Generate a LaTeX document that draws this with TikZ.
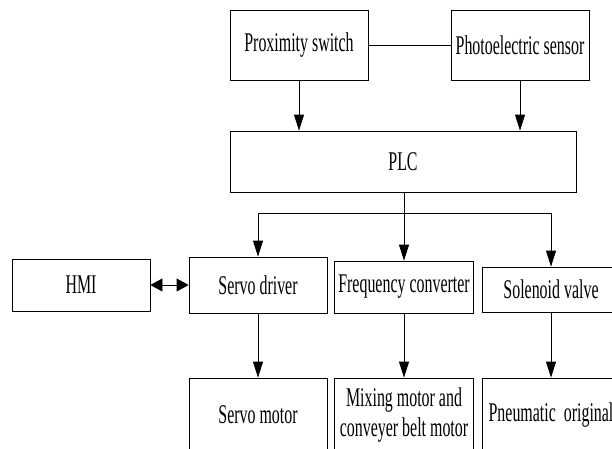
\documentclass[tikz,border=0pt]{standalone}
\usepackage{fontspec}
\setmainfont{Liberation Serif}[FakeStretch=0.59]
\usetikzlibrary{arrows.meta}
\begin{document}
\begin{tikzpicture}[x=1pt,y=-1pt,
  box/.style={draw, line width=0.8pt, inner sep=0pt, font=\fontsize{27}{30}\selectfont, align=center},
  arr/.style={line width=0.8pt, -{Triangle[length=16pt,width=10pt]}},
  dbl/.style={line width=0.8pt, {Triangle[length=12pt,width=13pt]}-{Triangle[length=12pt,width=13pt]}},
  ln/.style={line width=0.8pt}]
\useasboundingbox (0,0) rectangle (612,448);
\clip (0,0) rectangle (612,448);
\node[box, minimum width=138pt, minimum height=70pt] (prox) at (299,45) {Proximity switch};
\node[box, minimum width=138pt, minimum height=70pt] (photo) at (520,45) {Photoelectric sensor};
\node[box, minimum width=346pt, minimum height=61pt] (plc) at (403,161.5) {PLC};
\node[box, minimum width=138pt, minimum height=52pt] (hmi) at (81,285) {HMI};
\node[box, minimum width=138pt, minimum height=56pt] (servo) at (258,285) {Servo driver};
\node[box, minimum width=139pt, minimum height=52pt] (freq) at (404,287) {Frequency converter};
\node[box, minimum width=138pt, minimum height=45pt] (sol) at (551,289.5) {Solenoid valve};
\node[box, minimum width=138pt, minimum height=74pt] (smotor) at (258,415) {Servo motor};
\node[box, minimum width=139pt, minimum height=74pt] (mix) at (404,415) {Mixing motor and\\conveyer belt motor};
\node[box, minimum width=138pt, minimum height=74pt] (pneu) at (551,415) {Pneumatic\ \ original};
\coordinate (j) at (404,213);
\draw[ln] (prox.east) -- (photo.west);
\draw[arr] (prox.south) -- (prox.south |- plc.north);
\draw[arr] (photo.south) -- (photo.south |- plc.north);
\draw[ln] (plc.south -| j) -- (j);
\draw[arr] (j) -| (servo.north);
\draw[arr] (j) -- (j |- freq.north);
\draw[arr] (j) -| (sol.north);
\draw[dbl] (hmi.east) -- (servo.west);
\draw[arr] (servo.south) -- (smotor.north);
\draw[arr] (freq.south) -- (mix.north);
\draw[arr] (sol.south) -- (pneu.north);
\end{tikzpicture}
\end{document}
